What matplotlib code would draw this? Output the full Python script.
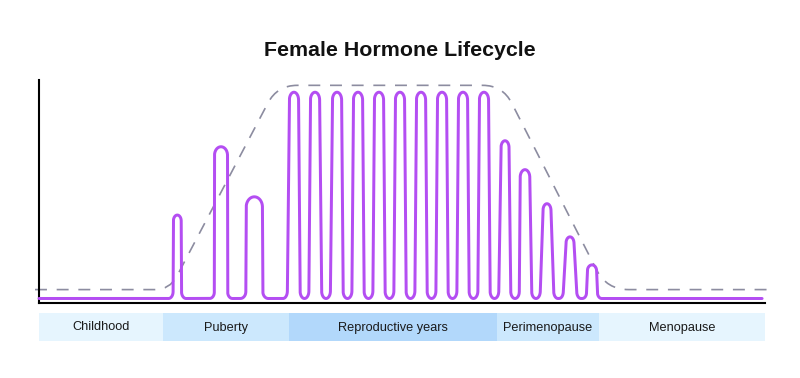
import numpy as np
import matplotlib
matplotlib.use("Agg")
import matplotlib.pyplot as plt
from matplotlib.path import Path
from matplotlib.patches import PathPatch, Rectangle

# ---------------- data ----------------
title = "Female Hormone Lifecycle"

stage_names = ["Childhood", "Puberty", "Reproductive years", "Perimenopause", "Menopause"]
stage_bounds = [0.0, 17.1, 34.4, 63.1, 77.1, 100.0]
stage_colors = ["#E6F5FE", "#CCE8FD", "#B2D8FB", "#CCE8FD", "#E6F5FE"]

# hormone peaks (time position, level 0-100)
peak_x = [19.05, 25.07, 29.66,
          35.12, 38.02, 41.05, 43.94, 46.83, 49.72, 52.62, 55.51, 58.40, 61.29,
          64.19, 66.94, 69.97, 73.14, 76.17]
peak_level = [39.3, 70.0, 47.5,
              94.5, 94.5, 94.5, 94.5, 94.5, 94.5, 94.5, 94.5, 94.5, 94.5,
              72.7, 59.7, 44.4, 29.5, 16.9]
baseline_level = 1.8
line_start, line_end = 0.0, 99.6

# dashed envelope (corner points)
envelope_x = [-0.55, 18.02, 32.81, 63.87, 78.18, 100.7]
envelope_y = [5.8, 5.8, 97.6, 97.6, 5.8, 5.8]

# ---------------- style (pixels) ----------------
cap_r = [3.9, 6.5, 8.1] + [4.6] * 10 + [4.0, 4.8, 4.0, 4.0, 4.6]
foot_w = [8.8, 11.5, 14.0] + [11.0] * 10 + [11.0, 11.0, 11.0, 11.0, 9.8]
fillet_r = [4.6, 4.8, 5.5] + [4.4] * 10 + [4.3, 4.3, 4.3, 4.3, 4.3]
elong = [1.5, 1.3, 1.25] + [1.7] * 10 + [1.7, 1.6, 1.7, 1.6, 1.3]
corner_d = [0, 15, 20, 20, 22, 0]

purple = "#B44EF2"
dash_col = "#8C8CA0"

fig = plt.figure(figsize=(8, 3.78), dpi=100)
W, H = 800, 378
L, R, B, T = 39, 765, 302.5, 80
ax = fig.add_axes([L / W, 1 - B / H, (R - L) / W, (B - T) / H])
ax.set_xlim(0, 100)
ax.set_ylim(0, 100)
sx = ax.bbox.width / 100.0
sy = ax.bbox.height / 100.0
base = baseline_level * sy


def side_normal(reach, height, rc, rf):
    """angle of inner tangent normal between cap circle and fillet circle (scaled px space)"""
    dy = (height - rc) - rf
    D = np.hypot(reach, dy)
    return np.arctan2(dy, reach) - np.arccos(min(1.0, (rc + rf) / D))


# ---- build purple curve (px space, y scaled per peak, then back to data units) ----
px = [line_start * sx]
py = [base]
n = len(peak_x)
for i in range(n):
    c = peak_x[i] * sx
    k = elong[i]
    hh = (peak_level[i] * sy - base) / k
    rc, rf = cap_r[i], fillet_r[i]
    lr = foot_w[i]
    rr = foot_w[i]
    if i > 0:
        lr = min(lr, (peak_x[i] - peak_x[i - 1]) * sx / 2)
    if i < n - 1:
        rr = min(rr, (peak_x[i + 1] - peak_x[i]) * sx / 2)
    bL = side_normal(lr, hh, rc, rf)
    bR = side_normal(rr, hh, rc, rf)
    seg_x, seg_y = [], []
    phi = np.linspace(-np.pi / 2, bL, 18)
    seg_x += list(c - lr + rf * np.cos(phi))
    seg_y += list(rf + rf * np.sin(phi))
    th = np.linspace(np.pi + bL, -bR, 44)
    seg_x += list(c + rc * np.cos(th))
    seg_y += list(hh - rc + rc * np.sin(th))
    phi = np.linspace(np.pi - bR, 1.5 * np.pi, 18)
    seg_x += list(c + rr + rf * np.cos(phi))
    seg_y += list(rf + rf * np.sin(phi))
    px += seg_x
    py += list(base + np.array(seg_y) * k)
px.append(line_end * sx)
py.append(base)
xs = np.array(px) / sx
ys = np.array(py) / sy

# ---- envelope path with rounded corners ----
P = np.column_stack([np.array(envelope_x) * sx, np.array(envelope_y) * sy])
verts = [P[0]]
codes = [Path.MOVETO]
for j in range(1, len(P) - 1):
    a, b, cc = P[j - 1], P[j], P[j + 1]
    d = corner_d[j]
    u1 = (a - b) / np.linalg.norm(a - b)
    u2 = (cc - b) / np.linalg.norm(cc - b)
    verts += [b + u1 * d, b, b + u2 * d]
    codes += [Path.LINETO, Path.CURVE3, Path.CURVE3]
verts.append(P[-1])
codes.append(Path.LINETO)
V = np.array(verts)
V[:, 0] /= sx
V[:, 1] /= sy
env_lw = 1.2
ax.add_patch(PathPatch(Path(V, codes), fill=False, edgecolor=dash_col, lw=env_lw,
                       linestyle=(0, (8.6 / env_lw, 7.0 / env_lw)), clip_on=False, zorder=2))

ax.plot(xs, ys, color=purple, lw=2.15, solid_joinstyle="round", solid_capstyle="round",
        clip_on=False, zorder=3)

for s in ["top", "right"]:
    ax.spines[s].set_visible(False)
for s in ["left", "bottom"]:
    ax.spines[s].set_linewidth(1.5)
    ax.spines[s].set_color("black")
ax.set_xticks([])
ax.set_yticks([])
ax.patch.set_alpha(0)

# ---- stage boxes ----
bt, bb = 313, 341
ax2 = fig.add_axes([L / W, 1 - bb / H, (R - L) / W, (bb - bt) / H])
ax2.set_xlim(0, 100)
ax2.set_ylim(0, 1)
ax2.axis("off")
for i, name in enumerate(stage_names):
    x0, x1 = stage_bounds[i], stage_bounds[i + 1]
    ax2.add_patch(Rectangle((x0, 0), x1 - x0, 1, facecolor=stage_colors[i], edgecolor="none"))
    ax2.text((x0 + x1) / 2, (bb - 330.5) / (bb - bt), name, ha="center", va="baseline",
             fontsize=9.2, family=["Liberation Sans", "DejaVu Sans"], color="#1a1a1a")

fig.text(399.5 / W, 1 - 56.5 / H, title, ha="center", va="baseline", fontsize=15.4,
         fontweight="bold", family=["Liberation Sans", "DejaVu Sans"], color="#111111")

fig.savefig("out.png", dpi=100)
